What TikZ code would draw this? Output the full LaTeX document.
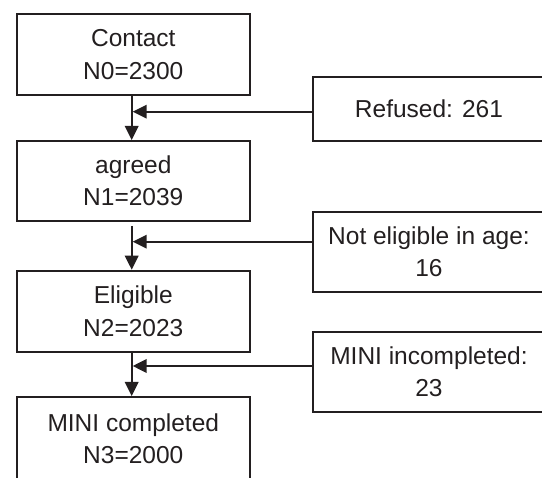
\documentclass[tikz,border=0pt]{standalone}
\usepackage{fontspec}
\setmainfont{Liberation Sans}
\usetikzlibrary{arrows.meta}
\definecolor{ink}{RGB}{35,31,32}
\tikzset{
  stagebox/.style={draw=ink, text=ink, line width=2pt, rectangle, inner sep=0pt,
    minimum width=233pt, align=center,
    font=\fontsize{24.5}{32.4}\selectfont},
  lossbox/.style={stagebox, minimum width=232pt},
  flow/.style={draw=ink, line width=2pt, -{Triangle[length=14pt,width=13.5pt]}}
}
\begin{document}
\begin{tikzpicture}[x=1pt,y=-1pt]
  \useasboundingbox (0,0) rectangle (542,478);
  \fill[white] (0,0) rectangle (542,478);

  % main stages
  \node[stagebox, minimum height=80.7pt] (c0) at (133.3,54.7) {Contact\\N0=2300};
  \node[stagebox, minimum height=80pt]   (c1) at (133.3,181)  {agreed\\N1=2039};
  \node[stagebox, minimum height=81pt]   (c2) at (133.3,311.2) {Eligible\\N2=2023};
  \node[stagebox, minimum height=84pt]   (c3) at (133.3,439)  {MINI completed\\N3=2000};

  % exclusions
  \node[lossbox, minimum height=64pt] (r0) at (429,108.7) {Refused: 261};
  \node[lossbox, minimum height=79.4pt] (r1) at (429,252) {Not eligible in age:\\16};
  \node[lossbox, minimum height=80pt] (r2) at (429,371.7) {MINI incompleted:\\23};

  % joints where exclusions meet the main flow
  \coordinate (j0) at (132.7,111.7);
  \coordinate (j1) at (132.7,241.7);
  \coordinate (j2) at (132.7,366);

  % main flow
  \draw[flow] ([xshift=-1.6pt]c0.south) -- ([xshift=-1.6pt]c1.north);
  \draw[flow] ([xshift=-1.6pt,yshift=-4pt]c1.south) -- ([xshift=-1.6pt]c2.north);
  \draw[flow] ([xshift=-1.6pt]c2.south) -- ([xshift=-1.6pt]c3.north);

  % exclusion arrows
  \draw[flow] (r0.west |- j0) -- (j0);
  \draw[flow] (r1.west |- j1) -- (j1);
  \draw[flow] (r2.west |- j2) -- (j2);
\end{tikzpicture}
\end{document}
